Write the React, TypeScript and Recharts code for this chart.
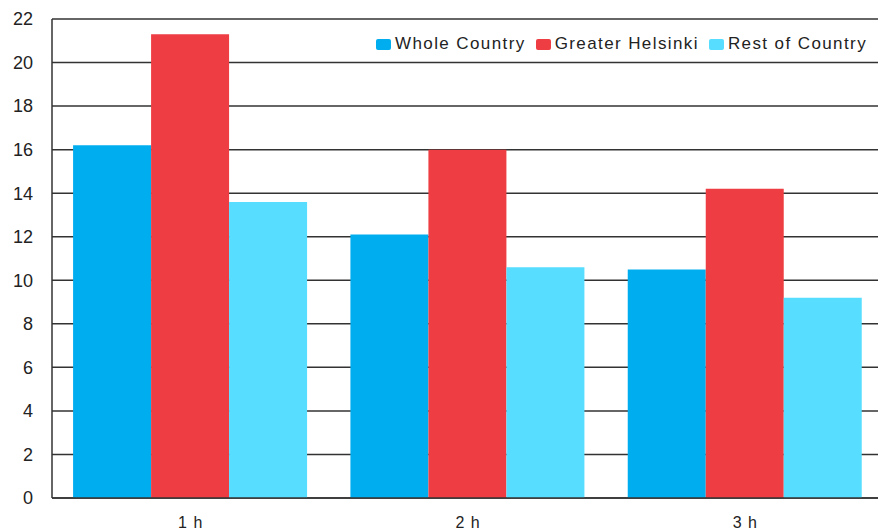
import * as React from "react"
import { BarChart, Bar, XAxis, YAxis, CartesianGrid, Legend } from "recharts"

const durations = ["1 h", "2 h", "3 h"]
const wholeCountry = [16.2, 12.1, 10.5]
const greaterHelsinki = [21.3, 16.0, 14.2]
const restOfCountry = [13.6, 10.6, 9.2]
const yTicks = [0, 2, 4, 6, 8, 10, 12, 14, 16, 18, 20, 22]

const series = [
  { key: "whole", name: "Whole Country", color: "#00aeef" },
  { key: "helsinki", name: "Greater Helsinki", color: "#ef3e43" },
  { key: "rest", name: "Rest of Country", color: "#57ddff" },
]

const data = durations.map((d, i) => ({
  duration: d,
  whole: wholeCountry[i],
  helsinki: greaterHelsinki[i],
  rest: restOfCountry[i],
}))

const FONT = "'Liberation Sans', Arial, sans-serif"

function LegendBox() {
  return (
    <div style={{ display: "flex", alignItems: "center", fontFamily: FONT, fontSize: 17, letterSpacing: 1.4, color: "#222", background: "#fff", whiteSpace: "nowrap" }}>
      {series.map((s) => (
        <span key={s.key} style={{ display: "inline-flex", alignItems: "center", marginRight: 10 }}>
          <span style={{ width: 15, height: 11, borderRadius: 2, background: s.color, marginRight: 4, display: "inline-block" }} />
          {s.name}
        </span>
      ))}
    </div>
  )
}

export default function App() {
  return (
    <div style={{ position: "fixed", left: 0, top: 0, width: 878, height: 531, background: "#fff", overflow: "hidden" }}>
      <BarChart
        width={878}
        height={531}
        data={data}
        margin={{ top: 19, right: -6, bottom: 0, left: 0 }}
        barCategoryGap="7.6%"
        barGap={0}
      >
        <CartesianGrid vertical={false} stroke="#333" strokeWidth={1.5} />
        <XAxis
          dataKey="duration"
          height={33}
          stroke="#333"
          strokeWidth={1.5}
          tickLine={false}
          tickSize={0}
          tickMargin={19}
          tick={{ fill: "#222", fontSize: 16, fontFamily: FONT, letterSpacing: 1 }}
        />
        <YAxis
          width={52}
          domain={[0, 22]}
          ticks={yTicks}
          interval={0}
          stroke="#333"
          strokeWidth={1.5}
          tickLine={false}
          tickSize={0}
          tickMargin={19}
          tick={{ fill: "#222", fontSize: 18, fontFamily: FONT }}
        />
        <Legend
          layout="horizontal"
          verticalAlign="middle"
          align="center"
          wrapperStyle={{ top: 34, left: 376, width: "auto" }}
          content={() => <LegendBox />}
        />
        {series.map((s) => (
          <Bar key={s.key} dataKey={s.key} name={s.name} fill={s.color} isAnimationActive={false} />
        ))}
      </BarChart>
    </div>
  )
}
